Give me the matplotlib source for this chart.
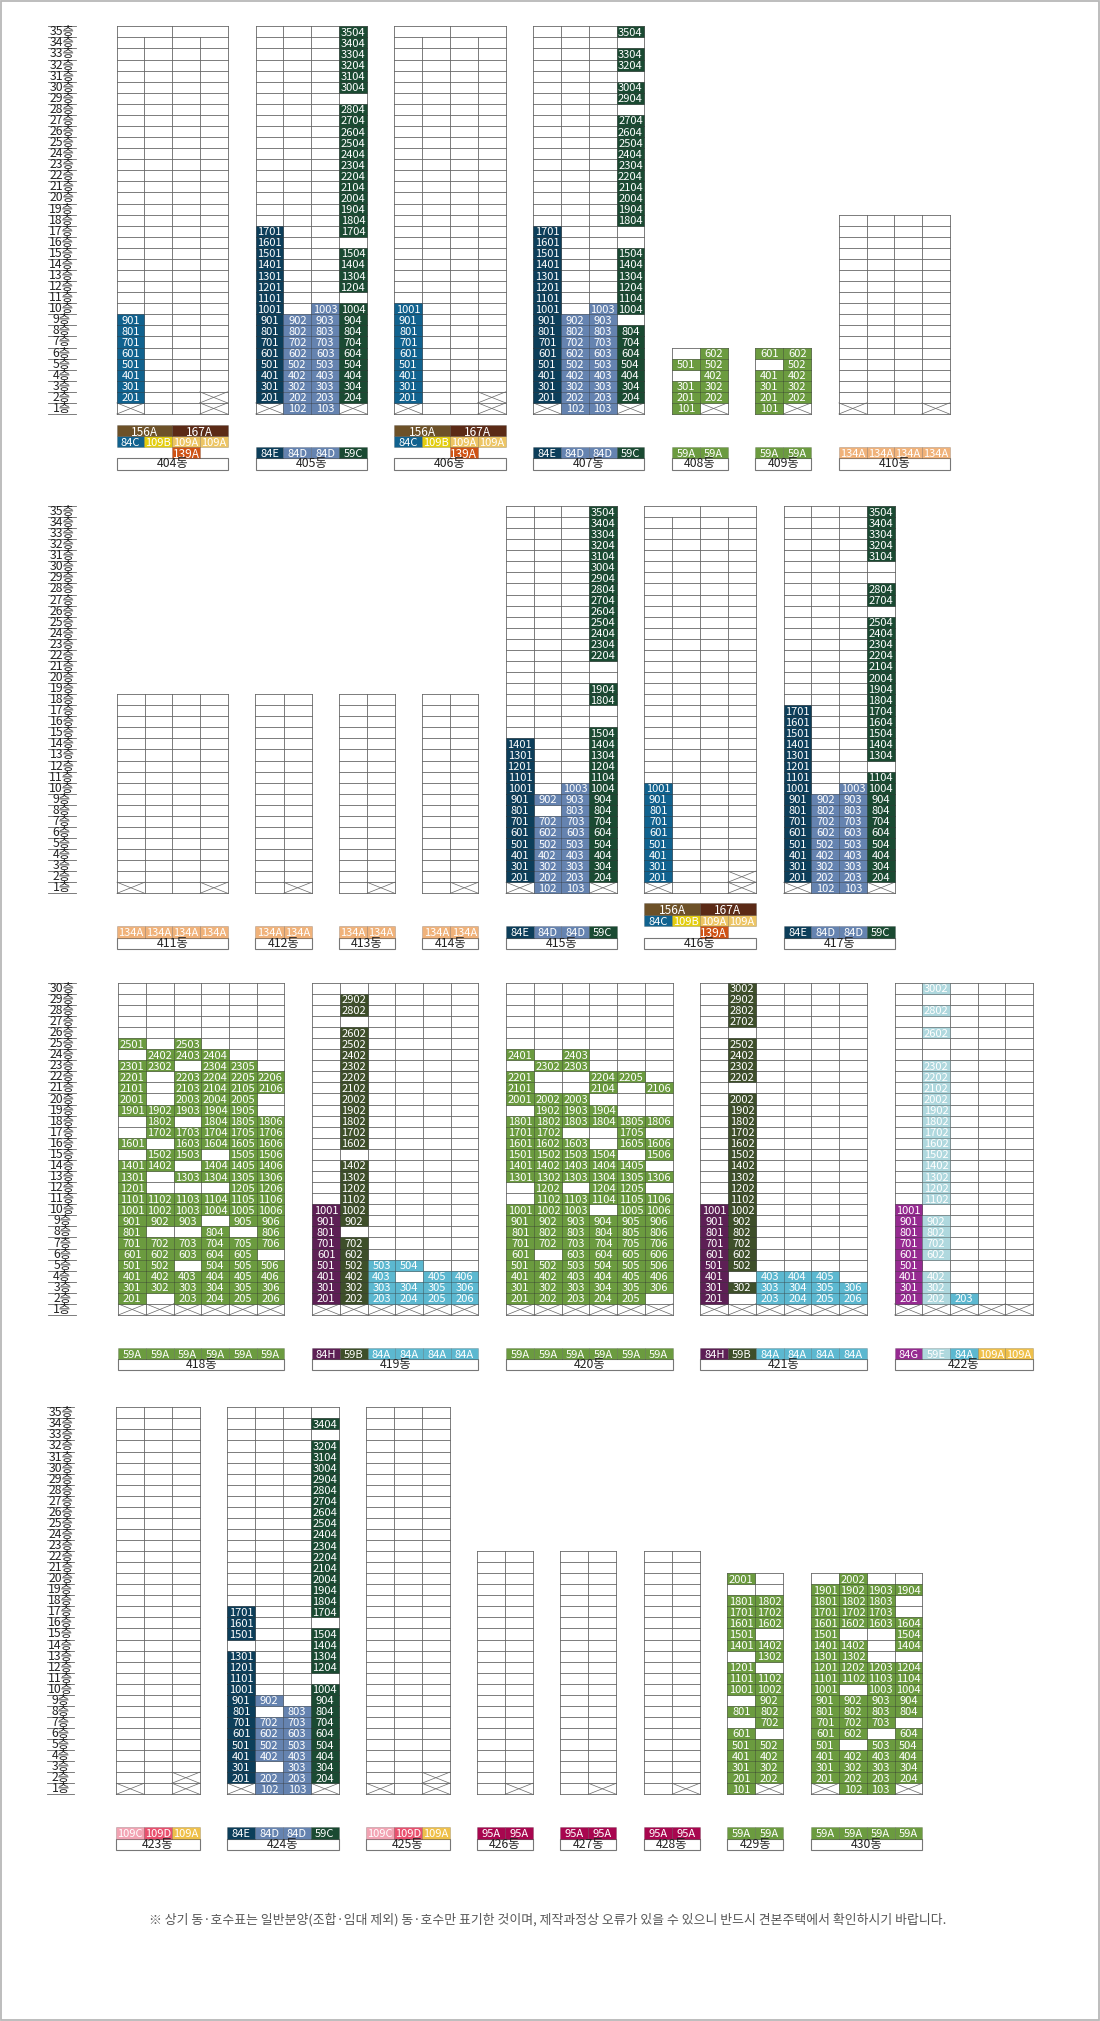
import matplotlib
matplotlib.use("Agg")
import matplotlib.pyplot as plt
from matplotlib.patches import Rectangle

plt.rcParams['font.family'] = ['Liberation Sans Narrow', 'Noto Sans CJK KR', 'DejaVu Sans']

# ---------- data: floors and unit types ----------
FLOORS = {404: 35, 405: 35, 406: 35, 407: 35, 408: 6, 409: 6, 410: 18,
          411: 18, 412: 18, 413: 18, 414: 18, 415: 35, 416: 35, 417: 35,
          418: 30, 419: 30, 420: 30, 421: 30, 422: 30,
          423: 35, 424: 35, 425: 35, 426: 22, 427: 22, 428: 22, 429: 20, 430: 20}

TYPES = {
    404: ['84C', '109B', '109A', '109A'], 405: ['84E', '84D', '84D', '59C'],
    406: ['84C', '109B', '109A', '109A'], 407: ['84E', '84D', '84D', '59C'],
    408: ['59A', '59A'], 409: ['59A', '59A'], 410: ['134A', '134A', '134A', '134A'],
    411: ['134A', '134A', '134A', '134A'], 412: ['134A', '134A'], 413: ['134A', '134A'],
    414: ['134A', '134A'], 415: ['84E', '84D', '84D', '59C'],
    416: ['84C', '109B', '109A', '109A'], 417: ['84E', '84D', '84D', '59C'],
    418: ['59A'] * 6, 419: ['84H', '59B', '84A', '84A', '84A', '84A'], 420: ['59A'] * 6,
    421: ['84H', '59B', '84A', '84A', '84A', '84A'],
    422: ['84G', '59E', '84A', '109A2', '109A2'],
    423: ['109C', '109D', '109A2'], 424: ['84E', '84D', '84D', '59C'],
    425: ['109C', '109D', '109A2'], 426: ['95A', '95A'], 427: ['95A', '95A'], 428: ['95A', '95A'],
    429: ['59A', '59A'], 430: ['59A', '59A', '59A', '59A'],
}

# penthouse buildings: merged top floor and the extra type rows
PENT_BUILDINGS = [404, 406, 416]
PENT_UPPER = ['156A', '167A']
PENT_LOWER = '139A'

VOID = {
    404: [(1, 1), (1, 4), (2, 4)], 405: [(1, 1), (1, 4)], 406: [(1, 1), (1, 4), (2, 4)],
    407: [(1, 1), (1, 4)], 408: [(1, 2)], 409: [(1, 2)], 410: [(1, 1), (1, 4)],
    411: [(1, 1), (1, 4)], 412: [(1, 2)], 413: [(1, 2)], 414: [(1, 2)], 415: [(1, 1), (1, 4)],
    416: [(1, 1), (1, 4), (2, 4)], 417: [(1, 1), (1, 4)],
    418: [(1, 1), (1, 2), (1, 3), (1, 4), (1, 5), (1, 6)],
    419: [(1, 1), (1, 2), (1, 3), (1, 4), (1, 5), (1, 6)],
    420: [(1, 1), (1, 2), (1, 3), (1, 4), (1, 5), (1, 6)],
    421: [(1, 1), (1, 2), (1, 3), (1, 4), (1, 5), (1, 6)],
    422: [(1, 1), (1, 2), (1, 3), (1, 4), (1, 5)],
    423: [(1, 1), (1, 3), (2, 3)], 424: [(1, 1), (1, 4)], 425: [(1, 1), (1, 3), (2, 3)],
    426: [(1, 2)], 427: [(1, 2)], 428: [(1, 2)], 429: [(1, 2)], 430: [(1, 1), (1, 4)],
}

UNITS = {
    404: [901, 801, 701, 601, 501, 401, 301, 201],
    405: [1701, 1601, 1501, 1401, 1301, 1201, 1101, 1001, 901, 801, 701, 601, 501, 401, 301, 201,
          902, 802, 702, 602, 502, 402, 302, 202, 102,
          1003, 903, 803, 703, 603, 503, 403, 303, 203, 103,
          3504, 3404, 3304, 3204, 3104, 3004, 2804, 2704, 2604, 2504, 2404, 2304, 2204, 2104, 2004,
          1904, 1804, 1704, 1504, 1404, 1304, 1204, 1004, 904, 804, 704, 604, 504, 404, 304, 204],
    406: [1001, 901, 801, 701, 601, 501, 401, 301, 201],
    407: [1701, 1601, 1501, 1401, 1301, 1201, 1101, 1001, 901, 801, 701, 601, 501, 401, 301, 201,
          902, 802, 702, 602, 502, 402, 302, 202, 102,
          1003, 903, 803, 703, 603, 503, 403, 303, 203, 103,
          3504, 3304, 3204, 3004, 2904, 2704, 2604, 2504, 2404, 2304, 2204, 2104, 2004, 1904, 1804,
          1504, 1404, 1304, 1204, 1104, 1004, 804, 704, 604, 504, 404, 304, 204],
    408: [602, 501, 502, 402, 301, 302, 201, 202, 101],
    409: [601, 602, 502, 401, 402, 301, 302, 201, 202, 101],
    410: [], 411: [], 412: [], 413: [], 414: [],
    415: [1401, 1301, 1201, 1101, 1001, 901, 801, 701, 601, 501, 401, 301, 201,
          902, 702, 602, 502, 402, 302, 202, 102,
          1003, 903, 803, 703, 603, 503, 403, 303, 203, 103,
          3504, 3404, 3304, 3204, 3104, 3004, 2904, 2804, 2704, 2604, 2504, 2404, 2304, 2204,
          1904, 1804, 1504, 1404, 1304, 1204, 1104, 1004, 904, 804, 704, 604, 504, 404, 304, 204],
    416: [1001, 901, 801, 701, 601, 501, 401, 301, 201],
    417: [1701, 1601, 1501, 1401, 1301, 1201, 1101, 1001, 901, 801, 701, 601, 501, 401, 301, 201,
          902, 802, 702, 602, 502, 402, 302, 202, 102,
          1003, 903, 803, 703, 603, 503, 403, 303, 203, 103,
          3504, 3404, 3304, 3204, 3104, 2804, 2704, 2504, 2404, 2304, 2204, 2104, 2004, 1904, 1804,
          1704, 1604, 1504, 1404, 1304, 1104, 1004, 904, 804, 704, 604, 504, 404, 304, 204],
    418: [2501, 2503, 2402, 2403, 2404, 2301, 2302, 2304, 2305,
          2201, 2203, 2204, 2205, 2206, 2101, 2103, 2104, 2105, 2106,
          2001, 2003, 2004, 2005, 1901, 1902, 1903, 1904, 1905,
          1802, 1804, 1805, 1806, 1702, 1703, 1704, 1705, 1706,
          1601, 1603, 1604, 1605, 1606, 1502, 1503, 1505, 1506,
          1401, 1402, 1404, 1405, 1406, 1301, 1303, 1304, 1305, 1306,
          1201, 1205, 1206, 1101, 1102, 1103, 1104, 1105, 1106,
          1001, 1002, 1003, 1004, 1005, 1006, 901, 902, 903, 905, 906,
          801, 804, 806, 701, 702, 703, 704, 705, 706, 601, 602, 603, 604, 605,
          501, 502, 504, 505, 506, 401, 402, 403, 404, 405, 406,
          301, 302, 303, 304, 305, 306, 201, 203, 204, 205, 206],
    419: [1001, 901, 801, 701, 601, 501, 401, 301, 201,
          2902, 2802, 2602, 2502, 2402, 2302, 2202, 2102, 2002, 1902, 1802, 1702, 1602,
          1402, 1302, 1202, 1102, 1002, 902, 702, 602, 502, 402, 302, 202,
          503, 504, 403, 405, 406, 303, 304, 305, 306, 203, 204, 205, 206],
    420: [2401, 2403, 2302, 2303, 2201, 2204, 2205, 2101, 2104, 2106,
          2001, 2002, 2003, 1902, 1903, 1904, 1801, 1802, 1803, 1804, 1805, 1806,
          1701, 1702, 1705, 1601, 1602, 1603, 1605, 1606, 1501, 1502, 1503, 1504, 1506,
          1401, 1402, 1403, 1404, 1405, 1301, 1302, 1303, 1304, 1305, 1306,
          1202, 1204, 1205, 1102, 1103, 1104, 1105, 1106, 1001, 1002, 1003, 1005, 1006,
          901, 902, 903, 904, 905, 906, 801, 802, 803, 804, 805, 806,
          701, 702, 703, 704, 705, 706, 601, 603, 604, 605, 606,
          501, 502, 503, 504, 505, 506, 401, 402, 403, 404, 405, 406,
          301, 302, 303, 304, 305, 306, 201, 202, 203, 204, 205],
    421: [1001, 901, 801, 701, 601, 501, 401, 301, 201,
          3002, 2902, 2802, 2702, 2502, 2402, 2302, 2202, 2002, 1902, 1802, 1702, 1602, 1502,
          1402, 1302, 1202, 1102, 1002, 902, 802, 702, 602, 502, 302,
          403, 404, 405, 303, 304, 305, 306, 203, 204, 205, 206],
    422: [1001, 901, 801, 701, 601, 501, 401, 301, 201,
          3002, 2802, 2602, 2302, 2202, 2102, 2002, 1902, 1802, 1702, 1602, 1502, 1402, 1302,
          1202, 1102, 902, 802, 702, 602, 402, 302, 202, 203],
    423: [],
    424: [1701, 1601, 1501, 1301, 1201, 1101, 1001, 901, 801, 701, 601, 501, 401, 301, 201,
          902, 702, 602, 502, 402, 202, 102,
          803, 703, 603, 503, 403, 303, 203, 103,
          3404, 3204, 3104, 3004, 2904, 2804, 2704, 2604, 2504, 2404, 2304, 2204, 2104, 2004, 1904,
          1804, 1704, 1504, 1404, 1304, 1204, 1004, 904, 804, 704, 604, 504, 404, 304, 204],
    425: [], 426: [], 427: [], 428: [],
    429: [2001, 1801, 1802, 1701, 1702, 1601, 1602, 1501, 1401, 1402, 1302, 1201,
          1101, 1102, 1001, 1002, 902, 801, 802, 702, 601, 501, 502, 401, 402,
          301, 302, 201, 202, 101],
    430: [2002, 1901, 1902, 1903, 1904, 1801, 1802, 1803, 1701, 1702, 1703,
          1601, 1602, 1603, 1604, 1501, 1504, 1401, 1402, 1404, 1301, 1302,
          1201, 1202, 1203, 1204, 1101, 1102, 1103, 1104, 1001, 1003, 1004,
          901, 902, 903, 904, 801, 802, 803, 804, 701, 702, 703, 601, 602, 604,
          501, 503, 504, 401, 402, 403, 404, 301, 302, 303, 304, 201, 202, 203, 204, 102, 103],
}

TYPE_LABEL_OVERRIDE = {'109A2': '109A'}
NOTE = '※ 상기 동·호수표는 일반분양(조합·임대 제외) 동·호수만 표기한 것이며, 제작과정상 오류가 있을 수 있으니 반드시 견본주택에서 확인하시기 바랍니다.'

# ---------- styles and layout ----------
COLORS = {'84C': '#10628f', '84E': '#0c3e5a', '84D': '#6583b0', '59C': '#1a4a32', '59A': '#6b9b3f',
          '134A': '#f0b27a', '156A': '#6d5128', '167A': '#5b2a16', '109B': '#e3cd0d', '109A': '#edc564',
          '109A2': '#efc04a', '139A': '#cf5214', '84H': '#5d1f55', '59B': '#3e4f2a', '84A': '#5cb8d0',
          '84G': '#962a91', '59E': '#afd8de', '109C': '#f2a3b3', '109D': '#e8506e', '95A': '#a8064f'}

ROWS = [
    dict(label=(47.5, 76), top=26.3, bottom=414.0, floors=35, band=(447.3, 458.3, 469.7),
         x={404: (116.8, 227.5), 405: (255.7, 366.8), 406: (394.3, 505.7), 407: (533.3, 644.3),
            408: (672, 727.5), 409: (755.3, 811.2), 410: (838.9, 949.5)}),
    dict(label=(48, 75.7), top=506.0, bottom=893.3, floors=35, band=(926.3, 937.7, 949.3),
         x={411: (117, 227.7), 412: (255.3, 311.7), 413: (339.3, 394.7), 414: (422.3, 478.3),
            415: (506, 616.7), 416: (644.3, 755.7), 417: (783.7, 894.7)}),
    dict(label=(48.3, 76.3), top=982.7, bottom=1315.0, floors=30, band=(1348.3, 1359.3, 1370.3),
         x={418: (118.3, 284.3), 419: (312.3, 478.3), 420: (506.4, 672.5), 421: (700.4, 866.8),
            422: (894.6, 1032.9)}),
    dict(label=(47.3, 74.3), top=1407.3, bottom=1794.3, floors=35, band=(1827.3, 1838.7, 1850.0),
         x={423: (116.3, 199.7), 424: (227.3, 338.7), 425: (366.3, 449.7), 426: (477.3, 532.7),
            427: (560.3, 616.3), 428: (644.3, 699.7), 429: (727.3, 783.3), 430: (811.3, 922.3)}),
]
GRID = '#666666'
GRID_LW = 0.6
SEP = '#00000038'
FS_CELL = 8.0
FS_LABEL = 8.8

fig = plt.figure(figsize=(11, 20.21), dpi=100)
ax = fig.add_axes([0, 0, 1, 1])
ax.set_xlim(0, 1100)
ax.set_ylim(2021, 0)
ax.axis('off')

ax.add_patch(Rectangle((0.6, 0.6), 1098.4, 2019.4, fc='white', ec='#b8b8b8', lw=1.3, zorder=0))

for row in ROWS:
    h = (row['bottom'] - row['top']) / row['floors']
    lx0, lx1 = row['label']
    for i in range(row['floors'] + 1):
        y = row['bottom'] - i * h
        ax.plot([lx0, lx1], [y, y], color=GRID, lw=GRID_LW, zorder=1)
    for f in range(1, row['floors'] + 1):
        ax.text((lx0 + lx1) / 2, row['bottom'] - (f - 0.5) * h, f'{f}층', ha='center', va='center',
                fontsize=FS_LABEL, color='#222222', zorder=5)

    for b, (x0, x1) in row['x'].items():
        floors = FLOORS[b]
        types = TYPES[b]
        n = len(types)
        w = (x1 - x0) / n
        top = row['bottom'] - floors * h
        for i in range(floors + 1):
            y = row['bottom'] - i * h
            ax.plot([x0, x1], [y, y], color=GRID, lw=GRID_LW, zorder=1)
        for c in range(n + 1):
            yt = top
            if b in PENT_BUILDINGS and c in (1, 3):
                yt = top + h
            ax.plot([x0 + c * w] * 2, [yt, row['bottom']], color=GRID, lw=GRID_LW, zorder=1)
        # void cells
        for f, c in VOID[b]:
            xa, xb = x0 + (c - 1) * w, x0 + c * w
            ya, yb = row['bottom'] - f * h, row['bottom'] - (f - 1) * h
            ax.plot([xa, xb], [ya, yb], color=GRID, lw=0.5, zorder=2)
            ax.plot([xa, xb], [yb, ya], color=GRID, lw=0.5, zorder=2)
        # units
        for room in UNITS[b]:
            f, c = room // 100, room % 100
            xa = x0 + (c - 1) * w
            ya = row['bottom'] - f * h
            ax.add_patch(Rectangle((xa, ya), w, h, fc=COLORS[types[c - 1]], ec=SEP, lw=0.5, zorder=3))
            ax.text(xa + w / 2, ya + h / 2, str(room), ha='center', va='center_baseline',
                    fontsize=FS_CELL, color='white', zorder=4)
        # type band
        y0, y1, y2 = row['band']
        bh = y1 - y0
        for c, t in enumerate(types):
            ax.add_patch(Rectangle((x0 + c * w, y0 if b not in PENT_BUILDINGS else y0 - bh), w, bh,
                                   fc=COLORS[t], ec=SEP, lw=0.5, zorder=3))
            ax.text(x0 + (c + 0.5) * w, (y0 if b not in PENT_BUILDINGS else y0 - bh) + bh / 2,
                    TYPE_LABEL_OVERRIDE.get(t, t), ha='center', va='center_baseline',
                    fontsize=FS_CELL, color='white', zorder=4)
        if b in PENT_BUILDINGS:
            for k, t in enumerate(PENT_UPPER):
                ax.add_patch(Rectangle((x0 + 2 * k * w, y0 - 2 * bh), 2 * w, bh, fc=COLORS[t], ec=SEP,
                                       lw=0.5, zorder=3))
                ax.text(x0 + (2 * k + 1) * w, y0 - 1.5 * bh, t, ha='center', va='center_baseline',
                        fontsize=FS_CELL + 0.6, color='white', zorder=4)
            ax.add_patch(Rectangle((x0 + 2 * w, y0), w, bh, fc=COLORS[PENT_LOWER], ec=SEP, lw=0.5, zorder=3))
            ax.text(x0 + 2.5 * w, y0 + bh / 2, PENT_LOWER, ha='center', va='center_baseline',
                    fontsize=FS_CELL + 0.6, color='white', zorder=4)
        # building name
        ax.add_patch(Rectangle((x0, y1), x1 - x0, y2 - y1, fc='white', ec='#777777', lw=0.8, zorder=2))
        ax.text((x0 + x1) / 2, (y1 + y2) / 2, f'{b}동', ha='center', va='center',
                fontsize=FS_LABEL, color='#222222', zorder=4)

ax.text(547.5, 1920, NOTE, ha='center', va='center', fontsize=9.27, color='#555555',
        family=['Noto Sans CJK KR', 'DejaVu Sans'])

fig.savefig('out.png', dpi=100, facecolor='white')
